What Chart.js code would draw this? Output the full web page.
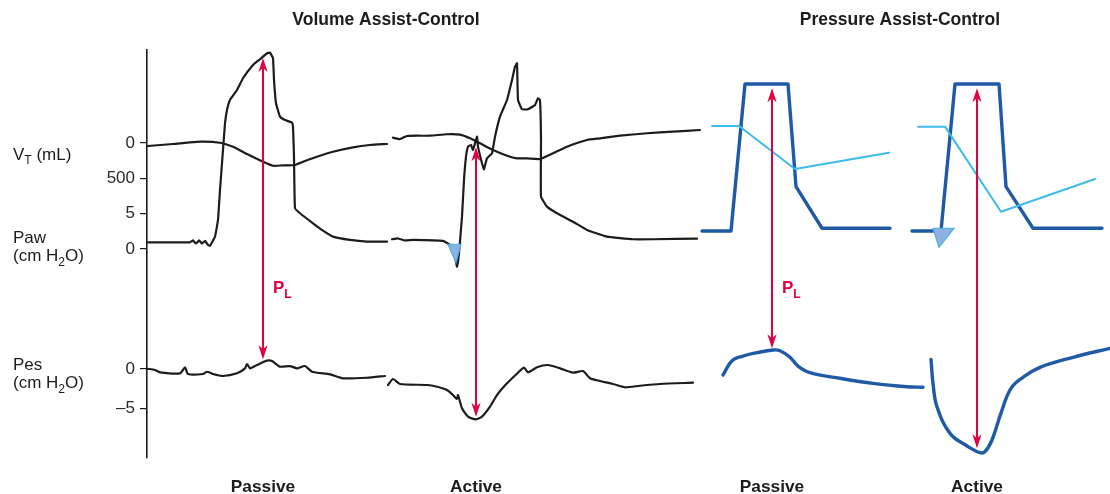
<!DOCTYPE html>
<html>
<head>
<meta charset="utf-8">
<script src="https://cdn.jsdelivr.net/npm/chart.js@4.4.1/dist/chart.umd.min.js"></script>
<style>
  html, body { margin: 0; padding: 0; background: #ffffff; }
  #wrap { width: 1110px; height: 494px; }
</style>
</head>
<body>
<div id="wrap"><canvas id="waves" width="1110" height="494"></canvas></div>
<script>
// ---- Signals: [time (s), value]; time runs across the four breaths ----
// Volume assist-control, passive breath
const vcPassiveVT = [[0.01,42],[0.26,14],[0.53,-18],[0.73,-4],[0.86,52],[1.00,155],[1.16,263],[1.26,320],[1.36,314],[1.48,310],[1.56,263],[1.70,193],[1.86,123],[2.06,61],[2.23,28],[2.40,14]];
const vcPassivePaw = [[0.01,0.96],[0.23,0.96],[0.43,0.96],[0.46,1.22],[0.49,0.79],[0.52,1.22],[0.55,0.79],[0.58,1.15],[0.61,0.58],[0.63,0.48],[0.68,1.76],[0.71,4.12],[0.73,8.37],[0.76,14.04],[0.78,17.82],[0.80,19.71],[0.83,21.12],[0.90,22.54],[0.96,24.20],[1.06,26.08],[1.13,26.89],[1.20,27.74],[1.23,27.82],[1.26,27.03],[1.27,23.96],[1.29,20.65],[1.33,18.76],[1.38,18.29],[1.45,17.91],[1.46,17.34],[1.47,13.09],[1.48,5.78],[1.53,5.07],[1.66,3.65],[1.76,2.61],[1.86,1.76],[2.03,1.29],[2.20,1.05],[2.40,1.05]];
const vcPassivePes = [[0.00,0.03],[0.08,-0.13],[0.13,-0.42],[0.33,-0.55],[0.38,0.21],[0.41,-0.64],[0.56,-0.64],[0.60,-0.35],[0.66,-0.64],[0.76,-0.89],[0.90,-0.55],[0.98,0.08],[1.00,0.63],[1.03,0.08],[1.10,0.50],[1.20,1.05],[1.25,1.01],[1.33,0.29],[1.43,0.37],[1.50,0.08],[1.58,0.37],[1.65,-0.35],[1.83,-0.68],[1.96,-1.18],[2.20,-1.11],[2.38,-0.89]];

// Volume assist-control, active breath
const vcActiveVT = [[2.46,-75],[2.53,-56],[2.60,-99],[2.83,-103],[3.00,-123],[3.13,-117],[3.23,-66],[3.33,4],[3.46,99],[3.60,179],[3.70,216],[3.80,216],[3.93,225],[4.06,145],[4.20,52],[4.40,-42],[4.53,-66],[4.73,-103],[5.00,-137],[5.26,-159],[5.53,-183]];
const vcActivePaw = [[2.45,1.39],[2.51,1.50],[2.58,1.22],[2.66,1.29],[2.96,1.15],[3.03,0.58],[3.08,-1.08],[3.10,-2.50],[3.12,-0.59],[3.15,4.59],[3.17,9.79],[3.19,13.09],[3.21,14.51],[3.24,14.75],[3.26,14.04],[3.30,15.92],[3.31,14.51],[3.35,12.15],[3.37,11.30],[3.40,12.86],[3.45,13.57],[3.48,15.92],[3.53,18.76],[3.60,21.12],[3.65,23.96],[3.68,25.84],[3.70,26.32],[3.71,21.12],[3.75,19.80],[3.81,19.80],[3.88,20.41],[3.91,21.36],[3.93,21.12],[3.94,15.46],[3.94,7.42],[4.00,6.01],[4.10,5.07],[4.26,3.88],[4.40,2.71],[4.60,1.76],[4.86,1.39],[5.06,1.39],[5.50,1.47]];
const vcActivePes = [[2.41,-2.03],[2.46,-1.27],[2.53,-1.90],[2.80,-2.03],[2.90,-2.25],[3.00,-2.66],[3.06,-3.30],[3.10,-3.80],[3.11,-3.30],[3.15,-4.98],[3.21,-6.04],[3.29,-6.37],[3.35,-6.04],[3.43,-4.78],[3.50,-3.30],[3.60,-1.82],[3.71,-0.47],[3.77,0.16],[3.81,-0.42],[3.90,0.21],[4.01,0.50],[4.13,0.08],[4.26,-0.47],[4.36,-0.26],[4.43,-1.18],[4.53,-1.52],[4.66,-1.90],[4.78,-2.32],[4.93,-2.12],[5.13,-1.90],[5.46,-1.74]];

// Pressure assist-control, passive breath
const pcPassivePaw = [[5.55,2.56],[5.84,2.56],[5.98,23.39],[6.41,23.39],[6.49,8.84],[6.75,2.95],[7.43,2.95]];
const pcPassiveVT = [[5.65,-239],[5.92,-239],[6.48,366],[7.42,137]];
const pcPassivePes = [[5.76,-0.76],[5.85,1.05],[5.96,1.64],[6.10,2.06],[6.26,2.40],[6.33,2.31],[6.43,1.48],[6.51,0.37],[6.63,-0.47],[6.93,-1.18],[7.26,-1.82],[7.60,-2.25],[7.76,-2.32]];

// Pressure assist-control, active breath
const pcActivePaw = [[7.65,2.56],[7.94,2.56],[8.08,23.39],[8.52,23.39],[8.59,8.84],[8.86,2.95],[9.55,2.95]];
const pcActiveVT = [[7.71,-230],[7.98,-230],[8.54,968],[9.48,507]];
const pcActivePes = [[7.84,1.22],[7.86,-1.82],[7.90,-4.78],[8.03,-8.15],[8.20,-9.75],[8.33,-10.60],[8.38,-10.47],[8.45,-8.99],[8.55,-5.20],[8.64,-2.45],[8.76,-1.06],[8.93,0.21],[9.26,1.48],[9.63,2.62]];

// Transpulmonary pressure (PL = Paw - Pes) arrows
const plTimes = [1.16, 3.29, 6.25, 8.30];
const plPaw = [27.07, 14.42, 22.78, 22.78];
const plPes = [1.22, -6.04, 2.62, -10.04];
const plLabelled = [true, false, true, false];

// Patient-effort trigger markers: times [left, right, tip], Paw [top, tip]
const triggerTimes = [[3.01, 3.14, 3.09], [7.86, 8.07, 7.92]];
const triggerPaw = [[0.68, -1.93], [2.95, 0.25]];

// Axis tick labels
const vtTicks = [0, 500];
const pawTicks = [5, 0];
const pesTicks = [0, -5];

// Headings
const modeTitles = ['Volume Assist-Control', 'Pressure Assist-Control'];
const modeTitleTimes = [2.39, 7.53];
const effortLabels = ['Passive', 'Active', 'Passive', 'Active'];

// ---- Scale ranges (the three signals share one vertical strip) ----
const VT_RANGE = { min: -1310, max: 4437 };   // drawn downward
const PAW_RANGE = { min: -29.6, max: 28.2 };
const PES_RANGE = { min: -11.27, max: 40.38 };

const FONT = "'Liberation Sans', Arial, Helvetica, sans-serif";
const INK = '#1c1c1c';
const RED = '#e3003f';
const DARK_BLUE = '#1f5aa6';
const LIGHT_BLUE = '#3dbbec';

// fraction of the strip height from the top for a value on a given range
const fromTop = (v, r, reversed) => reversed ? (v - r.min) / (r.max - r.min) : (r.max - v) / (r.max - r.min);
const asPaw = f => PAW_RANGE.max - f * (PAW_RANGE.max - PAW_RANGE.min);
const fmt = v => v < 0 ? '\u2013' + Math.abs(v) : String(v);

const axisTicks = [
  ...vtTicks.map(v => ({ value: asPaw(fromTop(v, VT_RANGE, true)), label: fmt(v) })),
  ...pawTicks.map(v => ({ value: v, label: fmt(v) })),
  ...pesTicks.map(v => ({ value: asPaw(fromTop(v, PES_RANGE, false)), label: fmt(v) }))
];

const pts = arr => arr.map(([x, y]) => ({ x, y }));
const trace = (arr, axis, color, width, tension) => ({
  data: pts(arr), yAxisID: axis, xAxisID: 'x',
  borderColor: color, borderWidth: width, tension: tension || 0,
  pointRadius: 0, fill: false, borderJoinStyle: 'round', borderCapStyle: 'round'
});

const datasets = [
  trace(vcPassiveVT, 'vt', INK, 2.2, 0.2),
  trace(vcPassivePaw, 'paw', INK, 2.2, 0.1),
  trace(vcPassivePes, 'pes', INK, 2.2, 0.2),
  trace(vcActiveVT, 'vt', INK, 2.2, 0.2),
  trace(vcActivePaw, 'paw', INK, 2.2, 0.1),
  trace(vcActivePes, 'pes', INK, 2.2, 0.2),
  trace(pcPassiveVT, 'vt', LIGHT_BLUE, 2, 0),
  trace(pcActiveVT, 'vt', LIGHT_BLUE, 2, 0),
  trace(pcPassivePaw, 'paw', DARK_BLUE, 3.4, 0),
  trace(pcActivePaw, 'paw', DARK_BLUE, 3.4, 0),
  trace(pcPassivePes, 'pes', DARK_BLUE, 3.4, 0.4),
  trace(pcActivePes, 'pes', DARK_BLUE, 3.4, 0.4)
];

function richText(ctx, parts, x, y, size, weight, color) {
  let cx = x;
  ctx.fillStyle = color;
  ctx.textAlign = 'left';
  ctx.textBaseline = 'alphabetic';
  parts.forEach(p => {
    const s = p.sub ? Math.round(size * 0.72) : size;
    ctx.font = `${weight} ${s}px ${FONT}`;
    ctx.fillText(p.t, cx, p.sub ? y + size * 0.28 : y);
    cx += ctx.measureText(p.t).width;
  });
}

function arrowHead(ctx, x, tip, dir) {
  // dir = 1 points down, -1 points up
  ctx.beginPath();
  ctx.moveTo(x, tip);
  ctx.lineTo(x - 4.6, tip - dir * 14);
  ctx.lineTo(x, tip - dir * 10);
  ctx.lineTo(x + 4.6, tip - dir * 14);
  ctx.closePath();
  ctx.fill();
}

const overlay = {
  id: 'overlay',
  afterDatasetsDraw(chart) {
    const { ctx } = chart;
    const { x, paw, pes } = chart.scales;
    ctx.save();
    // trigger markers
    triggerTimes.forEach((ts, i) => {
      const [top, tip] = triggerPaw[i];
      ctx.beginPath();
      ctx.moveTo(x.getPixelForValue(ts[0]), paw.getPixelForValue(top));
      ctx.lineTo(x.getPixelForValue(ts[1]), paw.getPixelForValue(top));
      ctx.lineTo(x.getPixelForValue(ts[2]), paw.getPixelForValue(tip));
      ctx.closePath();
      ctx.fillStyle = '#8db2e0';
      ctx.fill();
      ctx.strokeStyle = '#4aaee6';
      ctx.lineWidth = 1.2;
      ctx.stroke();
    });
    // PL arrows
    ctx.strokeStyle = RED;
    ctx.fillStyle = RED;
    ctx.lineWidth = 2;
    plTimes.forEach((t, i) => {
      const px = x.getPixelForValue(t);
      const top = paw.getPixelForValue(plPaw[i]);
      const bot = pes.getPixelForValue(plPes[i]);
      ctx.beginPath();
      ctx.moveTo(px, top + 10);
      ctx.lineTo(px, bot - 10);
      ctx.stroke();
      arrowHead(ctx, px, top, -1);
      arrowHead(ctx, px, bot, 1);
      if (plLabelled[i]) {
        richText(ctx, [{ t: 'P' }, { t: 'L', sub: true }], px + 10, 293, 17, 'bold', RED);
      }
    });
    ctx.restore();
  },
  afterDraw(chart) {
    const { ctx } = chart;
    const { x } = chart.scales;
    ctx.save();
    // signal names
    richText(ctx, [{ t: 'V' }, { t: 'T', sub: true }, { t: ' (mL)' }], 13, 159.5, 17, 'normal', INK);
    richText(ctx, [{ t: 'Paw' }], 13, 243, 17, 'normal', INK);
    richText(ctx, [{ t: '(cm H' }, { t: '2', sub: true }, { t: 'O)' }], 13, 261, 17, 'normal', INK);
    richText(ctx, [{ t: 'Pes' }], 13, 370, 17, 'normal', INK);
    richText(ctx, [{ t: '(cm H' }, { t: '2', sub: true }, { t: 'O)' }], 13, 388, 17, 'normal', INK);
    // headings
    ctx.fillStyle = INK;
    ctx.textAlign = 'center';
    ctx.textBaseline = 'alphabetic';
    ctx.font = `bold 17.5px ${FONT}`;
    modeTitles.forEach((s, i) => ctx.fillText(s, x.getPixelForValue(modeTitleTimes[i]), 25));
    ctx.font = `bold 17.3px ${FONT}`;
    effortLabels.forEach((s, i) => ctx.fillText(s, x.getPixelForValue(plTimes[i]), 491.5));
    ctx.restore();
  }
};

new Chart(document.getElementById('waves'), {
  type: 'line',
  data: { datasets },
  options: {
    responsive: false,
    animation: false,
    layout: { padding: { left: 0, right: 0, top: 50, bottom: 36 } },
    plugins: { legend: { display: false }, tooltip: { enabled: false }, title: { display: false } },
    scales: {
      x: { type: 'linear', min: 0, max: 9.63, display: false },
      paw: {
        type: 'linear', position: 'left', min: PAW_RANGE.min, max: PAW_RANGE.max,
        afterFit(s) { s.width = 147; },
        afterBuildTicks(s) { s.ticks = axisTicks.map(t => ({ value: t.value })); },
        ticks: {
          autoSkip: false, padding: 5, color: '#2a2a2a',
          font: { size: 17, family: FONT },
          callback: (v, i) => axisTicks[i] ? axisTicks[i].label : ''
        },
        grid: { drawOnChartArea: false, drawTicks: true, tickLength: 7, color: INK, lineWidth: 1.2 },
        border: { display: true, color: INK, width: 1.6 }
      },
      vt: { type: 'linear', display: false, reverse: true, min: VT_RANGE.min, max: VT_RANGE.max },
      pes: { type: 'linear', display: false, min: PES_RANGE.min, max: PES_RANGE.max }
    }
  },
  plugins: [overlay]
});
</script>
</body>
</html>
